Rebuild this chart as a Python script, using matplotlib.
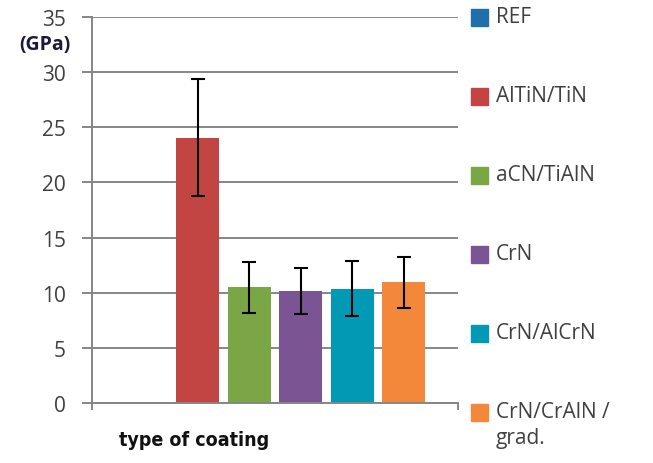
import numpy as np
import matplotlib
matplotlib.use("Agg")
import matplotlib.pyplot as plt
from matplotlib.patches import Rectangle

# Data
coatings = ["REF", "AlTiN/TiN", "aCN/TiAlN", "CrN", "CrN/AlCrN", "CrN/CrAlN /\ngrad."]
hardness = [0.0, 24.05, 10.5, 10.15, 10.35, 10.95]   # GPa
hardness_err = [0.0, 5.3, 2.3, 2.1, 2.5, 2.3]
bar_colors = ["#1f6fab", "#c34543", "#7ba646", "#7b5593", "#0299b5", "#f4883a"]
y_ticks = [0, 5, 10, 15, 20, 25, 30, 35]

plt.rcParams['font.family'] = ['Open Sans', 'DejaVu Sans']
grey = "#868686"
txt = "#404040"

fig = plt.figure(figsize=(6.53, 4.64), dpi=100)
ax = fig.add_axes([92/653, 1-404/464, 366/653, 386/464])

x = np.arange(len(coatings))
ax.bar(x, hardness, width=0.84, color=bar_colors, zorder=3)
err_idx = [i for i, e in enumerate(hardness_err) if e > 0]
ax.errorbar(x[err_idx], np.array(hardness)[err_idx], yerr=np.array(hardness_err)[err_idx],
            fmt="none", ecolor="black", elinewidth=1.5, capsize=5, capthick=1.5, zorder=4)

half = 366/51.5/2
ax.set_xlim(2.5-half, 2.5+half)
ax.set_ylim(0, 35)
ax.set_yticks(y_ticks)
ax.set_xticks([2.5-half, 2.5+half])
ax.set_xticklabels([])
ax.yaxis.grid(True, color=grey, linewidth=1.4, zorder=0)
ax.tick_params(axis="y", length=7, width=1.4, color=grey, pad=12,
               labelsize=15, labelcolor=txt)
ax.tick_params(axis="x", length=5, width=1.4, color=grey)
for s in ["top", "right"]:
    ax.spines[s].set_visible(False)
for s in ["left", "bottom"]:
    ax.spines[s].set_color(grey)
    ax.spines[s].set_linewidth(1.4)
ax.spines["bottom"].set_zorder(5)

fig.text(45/653, 1-45/464, "(GPa)", fontsize=14, fontweight="bold",
         color="#1a1a3a", ha="center", va="center")
fig.text(194/653, 1-441/464, "type of coating", fontsize=14, fontweight="bold",
         fontstretch="condensed", color="#111111", ha="center", va="center",
         family=["Liberation Sans Narrow", "DejaVu Sans"])

# legend column on the right
for i, (lab, col) in enumerate(zip(coatings, bar_colors)):
    yc = 18 + i*79
    fig.add_artist(Rectangle((471/653, 1-(yc+8.5)/464), 17/653, 17/464,
                             transform=fig.transFigure, color=col))
    fig.text(496/653, 1-(yc-11)/464, lab, fontsize=15, color=txt,
             ha="left", va="top", linespacing=1.3)

fig.savefig("out.png", dpi=100)
